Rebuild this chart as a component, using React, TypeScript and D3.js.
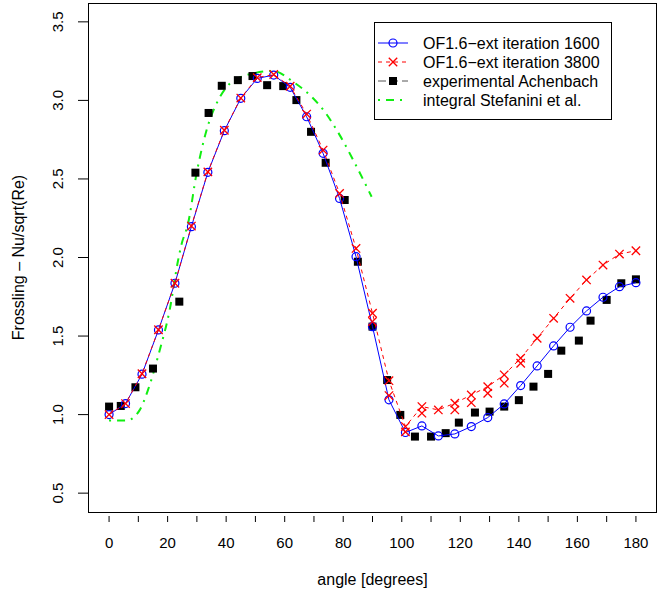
import React from "react";
import * as d3 from "d3";

// ---- data ----
const simAngles = [0, 5.625, 11.25, 16.875, 22.5, 28.125, 33.75, 39.375, 45, 50.625, 56.25, 61.875, 67.5, 73.125, 78.75, 84.375, 90, 95.625, 101.25, 106.875, 112.5, 118.125, 123.75, 129.375, 135, 140.625, 146.25, 151.875, 157.5, 163.125, 168.75, 174.375, 180];
const it1600 = [1.0, 1.07, 1.257, 1.539, 1.836, 2.196, 2.542, 2.807, 3.013, 3.14, 3.161, 3.083, 2.896, 2.663, 2.376, 2.005, 1.56, 1.094, 0.886, 0.928, 0.864, 0.877, 0.924, 0.981, 1.068, 1.185, 1.31, 1.437, 1.556, 1.66, 1.747, 1.814, 1.84];
const it3800 = [1.0, 1.07, 1.26, 1.54, 1.836, 2.2, 2.545, 2.81, 3.015, 3.145, 3.165, 3.09, 2.913, 2.684, 2.408, 2.058, 1.645, 1.216, 0.924, 1.051, 1.03, 1.073, 1.125, 1.178, 1.253, 1.359, 1.486, 1.613, 1.74, 1.857, 1.952, 2.022, 2.043];
const it3800ExtraAngles = [90, 95.625, 101.25, 106.875, 118.125, 123.75, 129.375, 135, 140.625];
const it3800Extra = [1.592, 1.121, 0.89, 1.009, 1.03, 1.076, 1.136, 1.2, 1.327];
const expAngles = [0, 4, 9, 15, 24, 29.5, 34, 38.5, 44, 49, 54, 59.5, 64, 69, 74, 80.5, 85, 90, 95, 99.5, 104.5, 110, 115, 119.5, 125, 130, 135, 140, 145, 150, 154.5, 160.5, 164.5, 170, 175, 180];
const expValues = [1.051, 1.055, 1.174, 1.293, 1.719, 2.54, 2.92, 3.093, 3.129, 3.155, 3.097, 3.091, 3.002, 2.8, 2.603, 2.366, 1.973, 1.56, 1.22, 0.998, 0.86, 0.86, 0.882, 0.949, 1.013, 1.019, 1.051, 1.092, 1.178, 1.259, 1.407, 1.471, 1.598, 1.73, 1.836, 1.861];
const intAngles = [0, 6, 10.5, 13.3, 17.3, 20.7, 23.6, 24.7, 27, 29.9, 33.3, 37.3, 41.3, 47, 49.2, 56, 62.9, 68.6, 73.7, 78.8, 84, 89.7];
const intValues = [0.962, 0.962, 1.03, 1.157, 1.41, 1.666, 1.984, 2.08, 2.218, 2.536, 2.81, 3.002, 3.108, 3.161, 3.172, 3.188, 3.118, 3.034, 2.927, 2.779, 2.599, 2.387];

const xTicks = d3.range(0, 181, 10);
const xLabels = d3.range(0, 181, 20);
const yTicks = [0.5, 1.0, 1.5, 2.0, 2.5, 3.0, 3.5];
const legendItems = [
  "OF1.6\u2212ext iteration 1600",
  "OF1.6\u2212ext iteration 3800",
  "experimental Achenbach",
  "integral Stefanini et al.",
];

const W = 664, H = 599;
const L = 88, R = 657, T = 3, B = 512;
const FONT = "'Liberation Sans', Arial, Helvetica, sans-serif";

export default function App() {
  const x = d3.scaleLinear().domain([-7.2, 187.2]).range([L, R]);
  const y = d3.scaleLinear().domain([0.38, 3.62]).range([B, T]);
  const line = d3.line<[number, number]>().x((d) => x(d[0])).y((d) => y(d[1]));
  const blueData = simAngles.map((a, i) => [a, it1600[i]] as [number, number]);
  const redData = simAngles.map((a, i) => [a, it3800[i]] as [number, number]);
  const redExtra = it3800ExtraAngles.map((a, i) => [a, it3800Extra[i]] as [number, number]);
  const expData = expAngles.map((a, i) => [a, expValues[i]] as [number, number]);
  const intData = intAngles.map((a, i) => [a, intValues[i]] as [number, number]);
  const intLine = d3.line<[number, number]>().x((d) => x(d[0])).y((d) => y(d[1])).curve(d3.curveMonotoneX);

  const cross = (cx: number, cy: number, k: string) => (
    <g key={k} stroke="#ff0000" strokeWidth={1.3}>
      <line x1={cx - 4.2} y1={cy - 4.2} x2={cx + 4.2} y2={cy + 4.2} />
      <line x1={cx - 4.2} y1={cy + 4.2} x2={cx + 4.2} y2={cy - 4.2} />
    </g>
  );

  const legX = 374, legY = 22, legW = 237, legH = 97;
  const rowY = [43, 62, 81, 100];
  const SQ = 8;

  return (
    <svg width={W} height={H} style={{ position: "absolute", left: 0, top: 0, background: "#fff" }} fontFamily={FONT}>
      <rect x={0} y={0} width={W} height={H} fill="#fff" />
      {/* green integral */}
      <path d={intLine(intData) || ""} fill="none" stroke="#11ee11" strokeWidth={2} strokeDasharray="2 6 8 6" />
      {/* experimental squares */}
      {expData.map((d, i) => (
        <rect key={"e" + i} x={x(d[0]) - SQ / 2} y={y(d[1]) - SQ / 2} width={SQ} height={SQ} fill="#000" />
      ))}
      {/* blue solid */}
      <path d={line(blueData) || ""} fill="none" stroke="#0000ff" strokeWidth={1} />
      {blueData.map((d, i) => (
        <circle key={"b" + i} cx={x(d[0])} cy={y(d[1])} r={4} fill="none" stroke="#0000ff" strokeWidth={1.2} />
      ))}
      {/* red dashed */}
      <path d={line(redData) || ""} fill="none" stroke="#ff0000" strokeWidth={1} strokeDasharray="4 4" />
      {redData.map((d, i) => cross(x(d[0]), y(d[1]), "r" + i))}
      {redExtra.map((d, i) => cross(x(d[0]), y(d[1]), "rx" + i))}
      {/* box */}
      <rect x={L + 0.5} y={T + 0.5} width={R - L - 1} height={B - T} fill="none" stroke="#000" strokeWidth={1} />
      {/* x axis */}
      {xTicks.map((t) => (
        <line key={"xt" + t} x1={x(t)} x2={x(t)} y1={516} y2={522} stroke="#000" />
      ))}
      {xLabels.map((t) => (
        <text key={"xl" + t} x={x(t)} y={548} textAnchor="middle" fontSize={15}>{t}</text>
      ))}
      <text x={(L + R) / 2} y={585} textAnchor="middle" fontSize={16}>angle [degrees]</text>
      {/* y axis */}
      {yTicks.map((t) => (
        <line key={"yt" + t} x1={78} x2={L} y1={y(t)} y2={y(t)} stroke="#000" />
      ))}
      {yTicks.map((t) => (
        <text key={"yl" + t} transform={`translate(63,${y(t)}) rotate(-90)`} textAnchor="middle" fontSize={15}>{t.toFixed(1)}</text>
      ))}
      <text transform={`translate(24,${(T + B) / 2}) rotate(-90)`} textAnchor="middle" fontSize={16}>Frossling {"\u2013"} Nu/sqrt(Re)</text>
      {/* legend */}
      <rect x={legX + 0.5} y={legY + 0.5} width={legW} height={legH} fill="#fff" stroke="#000" />
      <line x1={378} x2={408} y1={rowY[0]} y2={rowY[0]} stroke="#0000ff" />
      <circle cx={393} cy={rowY[0]} r={4} fill="none" stroke="#0000ff" strokeWidth={1.2} />
      <line x1={378} x2={408} y1={rowY[1]} y2={rowY[1]} stroke="#ff0000" strokeDasharray="4 4" />
      {cross(393, rowY[1], "lc")}
      <line x1={378} x2={408} y1={rowY[2]} y2={rowY[2]} stroke="#555" strokeDasharray="8 4" />
      <rect x={393 - SQ / 2} y={rowY[2] - SQ / 2} width={SQ} height={SQ} fill="#000" />
      <line x1={378} x2={408} y1={rowY[3]} y2={rowY[3]} stroke="#11ee11" strokeWidth={2} strokeDasharray="2 6 8 6" />
      {legendItems.map((s, i) => (
        <text key={"lg" + i} x={423} y={rowY[i] + 6} fontSize={16}>{s}</text>
      ))}
    </svg>
  );
}
